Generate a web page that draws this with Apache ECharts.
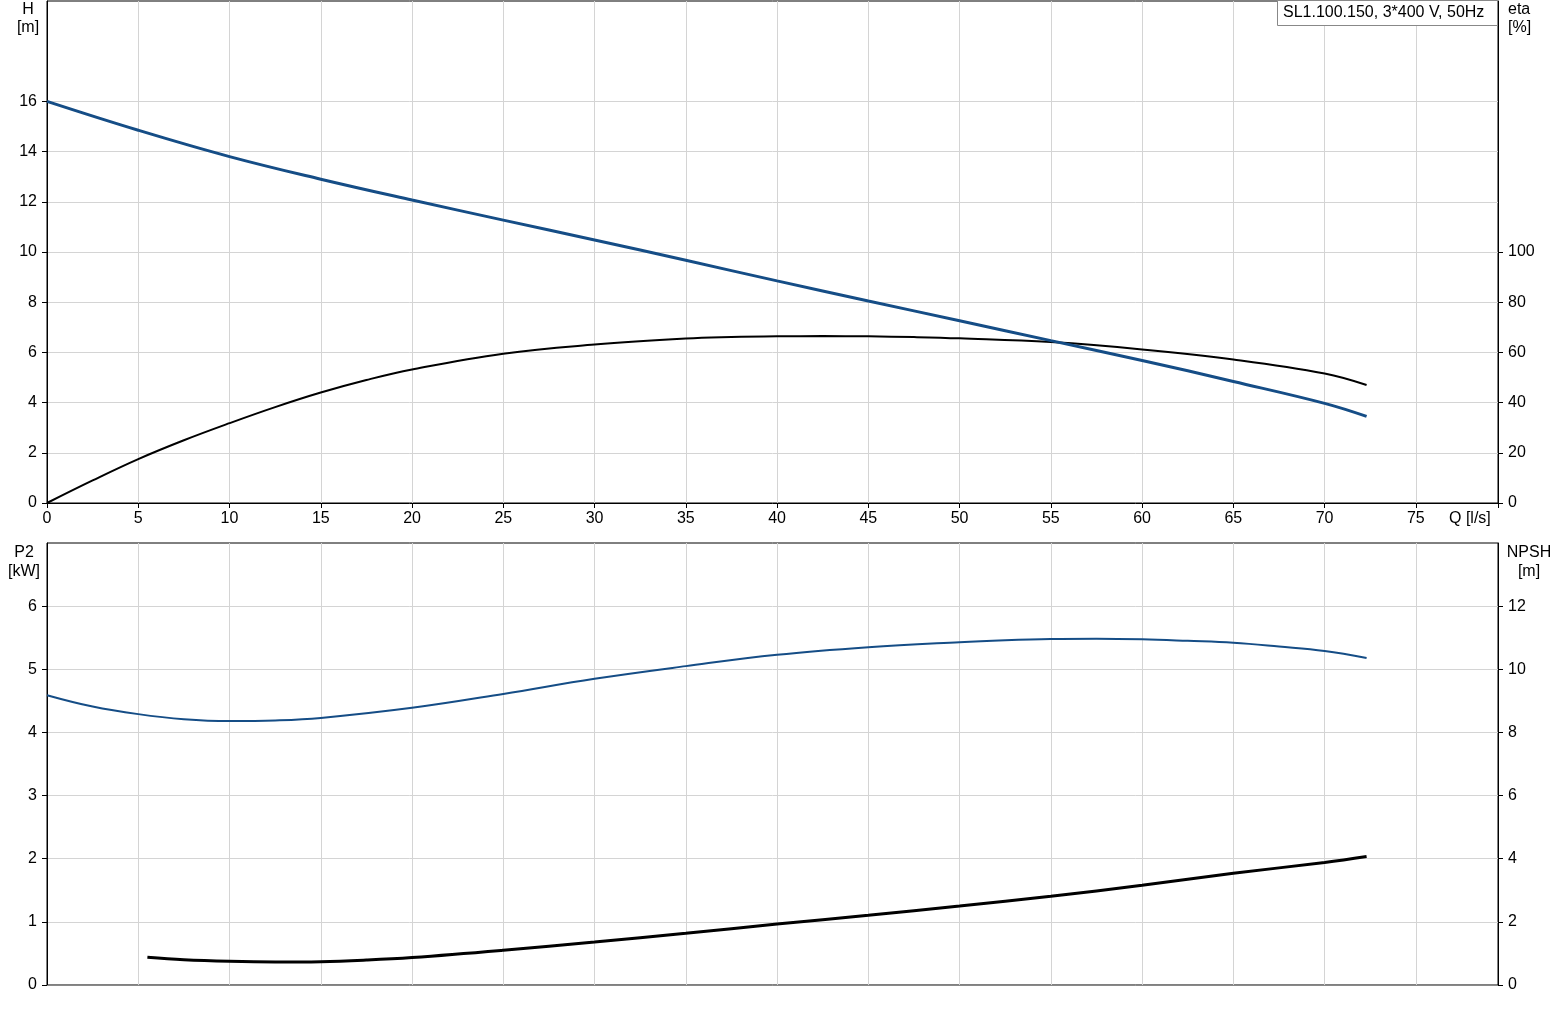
<!DOCTYPE html>
<html><head><meta charset="utf-8">
<script src="https://cdn.jsdelivr.net/npm/echarts@6/dist/echarts.min.js"></script>
<style>html,body{margin:0;padding:0;background:#fff}#c{width:1560px;height:1009px}</style>
</head><body><div id="c"></div>
<script>
var hTicks   = [0,2,4,6,8,10,12,14,16];
var etaTicks = [0,20,40,60,80,100];
var p2Ticks  = [0,1,2,3,4,5,6];
var npshTicks= [0,2,4,6,8,10,12];
var hQ   = [0,5,10,15,20,25,30,35,40,45,50,55,60,65,70,72.3];
var hVal = [16,14.85,13.8,12.9,12.07,11.27,10.48,9.67,8.85,8.05,7.26,6.47,5.68,4.84,3.97,3.45];
var etaQ   = [0,2.5,5,7.5,10,12.5,15,17.5,20,25,30,35,37.5,40,42.5,45,47.5,50,55,60,65,70,72.3];
var etaVal = [0,9,17.5,25,31.8,38.2,44,49,53.2,59.5,63.1,65.5,66.1,66.4,66.5,66.4,66.1,65.6,64.1,61.2,57.2,51.6,47];
var p2Q   = [0,2.5,5,7.5,10,12.5,15,20,25,30,35,40,45,50,52.5,55,57.5,60,62.5,65,67.5,70,72.3];
var p2Val = [4.59,4.41,4.29,4.21,4.18,4.19,4.23,4.39,4.61,4.85,5.05,5.23,5.35,5.43,5.46,5.48,5.485,5.475,5.45,5.42,5.36,5.29,5.18];
var npshQ   = [5.5,7.5,10,12.5,15,17.5,20,25,30,35,40,45,50,55,60,65,70,72.3];
var npshVal = [0.88,0.8,0.75,0.73,0.74,0.79,0.87,1.1,1.36,1.64,1.93,2.21,2.5,2.81,3.16,3.54,3.88,4.07];
var title = 'SL1.100.150, 3*400 V, 50Hz';

function pairs(xs, ys){ return xs.map(function(x,i){return [x, ys[i]];}); }
var FONT = 'Liberation Sans, Arial, sans-serif';
var lblStyle = {color:'#000', fontSize:16, fontFamily:FONT};
var chart = echarts.init(document.getElementById('c'), null, {renderer:'canvas'});
var gridLine = {show:true, lineStyle:{color:'#d4d4d4', width:1}};
function yAx(grid, max, interval, pos, ticks, split){
  return {gridIndex:grid, type:'value', min:0, max:max, interval:interval, position:pos,
     axisLine:{show:true, lineStyle:{color:'#000'}},
     axisTick:{show:true, length:5, customValues:ticks, lineStyle:{color:'#000'}},
     axisLabel:Object.assign({margin:10, customValues:ticks}, lblStyle),
     splitLine:split ? gridLine : {show:false}};
}
chart.setOption({
  animation:false,
  grid:[
    {left:47, right:62, top:1, height:502, show:true, borderColor:'#000', borderWidth:1, backgroundColor:'transparent'},
    {left:47, right:62, top:543, height:442, show:true, borderColor:'#000', borderWidth:1, backgroundColor:'transparent'}
  ],
  xAxis:[
    {gridIndex:0, type:'value', min:0, max:79.5, interval:5,
     axisLine:{show:true, lineStyle:{color:'#000'}}, axisTick:{show:true, length:5, lineStyle:{color:'#000'}},
     axisLabel:Object.assign({margin:8, formatter:function(v){return v<=75?String(v):'';}}, lblStyle),
     splitLine:gridLine},
    {gridIndex:1, type:'value', min:0, max:79.5, interval:5,
     axisLine:{show:true, lineStyle:{color:'#888'}}, axisTick:{show:false}, axisLabel:{show:false},
     splitLine:gridLine}
  ],
  yAxis:[
    yAx(0, 20, 2, 'left', hTicks, true),
    yAx(0, 200, 20, 'right', etaTicks, false),
    yAx(1, 7, 1, 'left', p2Ticks, true),
    yAx(1, 14, 2, 'right', npshTicks, false)
  ],
  series:[
    {type:'line', xAxisIndex:0, yAxisIndex:0, data:pairs(hQ,hVal), smooth:0.4, showSymbol:false,
     lineStyle:{color:'#154d86', width:3}, z:5},
    {type:'line', xAxisIndex:0, yAxisIndex:1, data:pairs(etaQ,etaVal), smooth:0.4, showSymbol:false,
     lineStyle:{color:'#000', width:2}, z:4},
    {type:'line', xAxisIndex:1, yAxisIndex:2, data:pairs(p2Q,p2Val), smooth:0.4, showSymbol:false,
     lineStyle:{color:'#154d86', width:2}, z:4},
    {type:'line', xAxisIndex:1, yAxisIndex:3, data:pairs(npshQ,npshVal), smooth:0.4, showSymbol:false,
     lineStyle:{color:'#000', width:3}, z:5}
  ],
  graphic:[
    {type:'rect', shape:{x:1277.5, y:0.5, width:220, height:25}, style:{fill:'#fff', stroke:'#888', lineWidth:1}, z:10},
    {type:'text', x:1283, y:13, style:{text:title, fill:'#000', font:'16px '+FONT, textVerticalAlign:'middle'}, z:11},
    {type:'text', x:28, y:1, style:{text:'H\n[m]', fill:'#000', font:'16px '+FONT, textAlign:'center', lineHeight:18}},
    {type:'text', x:1508, y:1, style:{text:'eta\n[%]', fill:'#000', font:'16px '+FONT, textAlign:'left', lineHeight:18}},
    {type:'text', x:24, y:543, style:{text:'P2\n[kW]', fill:'#000', font:'16px '+FONT, textAlign:'center', lineHeight:19}},
    {type:'text', x:1529, y:543, style:{text:'NPSH\n[m]', fill:'#000', font:'16px '+FONT, textAlign:'center', lineHeight:19}},
    {type:'text', x:1449, y:511, style:{text:'Q [l/s]', fill:'#000', font:'16px '+FONT}}
  ]
});
</script></body></html>
